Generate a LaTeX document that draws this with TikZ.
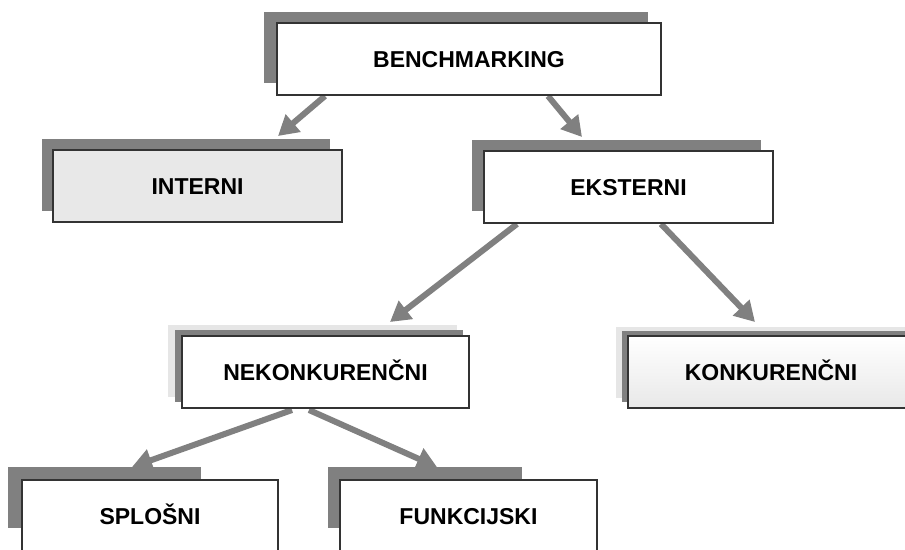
\documentclass[tikz,border=0pt]{standalone}
\usepackage{fontspec}
\setmainfont{Liberation Sans}
\usetikzlibrary{arrows.meta}
\definecolor{shadowdark}{HTML}{808080}
\definecolor{shadowlight}{HTML}{E6E6E6}
\definecolor{boxgray}{HTML}{E8E8E8}
\definecolor{edge}{HTML}{333333}
\tikzset{
  box/.style={draw=edge, line width=1.3pt, fill=white, minimum width=#1, minimum height=72pt,
    inner sep=0pt, text height=16.5pt, text depth=0pt,
    font=\fontsize{23}{27}\selectfont\bfseries},
  box/.default=288pt,
  arr/.style={draw=shadowdark, line width=6pt,
    -{Triangle[length=20pt, width=22pt]}},
  shade/.style={fill=shadowdark},
  lightshade/.style={fill=shadowlight},
}
\begin{document}
\begin{tikzpicture}[x=1pt, y=-1pt]
\clip (0,0) rectangle (905,549);
\fill[white] (0,0) rectangle (905,549);

% arrow end points
\coordinate (a1s) at (325,96);  \coordinate (a1e) at (278,136);
\coordinate (a2s) at (548,96);  \coordinate (a2e) at (582,137);
\coordinate (a3s) at (517,224); \coordinate (a3e) at (390,322);
\coordinate (a4s) at (661,224); \coordinate (a4e) at (755,322);
\coordinate (a5s) at (292,410); \coordinate (a5e) at (132,467);
\coordinate (a6s) at (309,410); \coordinate (a6e) at (437,467);

% connectors
\draw[arr] (a1s) -- (a1e);
\draw[arr] (a2s) -- (a2e);
\draw[arr] (a3s) -- (a3e);
\draw[arr] (a4s) -- (a4e);
\draw[arr] (a5s) -- (a5e);
\draw[arr] (a6s) -- (a6e);

% BENCHMARKING
\fill[shade] (264,12) rectangle (648,83);
\node[box=384pt] (bench) at (469,59) {BENCHMARKING};

% INTERNI
\fill[shade] (42,139) rectangle (330,211);
\node[box=289pt, fill=boxgray] (interni) at (197.5,186) {INTERNI};

% EKSTERNI
\fill[shade] (472,140) rectangle (761,211);
\node[box=289pt] (eksterni) at (628.5,187) {EKSTERNI};

% NEKONKURENČNI
\fill[lightshade] (168,325) rectangle (457,397);
\fill[shade] (175,330) rectangle (463,402);
\node[box=287pt] (nekonk) at (325.5,372) {NEKONKURENČNI};

% KONKURENČNI
\fill[lightshade] (616,327) rectangle (905,398);
\fill[shade] (622,331) rectangle (912,402);
\node[box=286pt, top color=white, bottom color=boxgray] (konk) at (771,372) {KONKURENČNI};

% SPLOŠNI
\fill[shade] (8,467) rectangle (201,528);
\node[box=256pt] (splosni) at (150,516) {SPLOŠNI};

% FUNKCIJSKI
\fill[shade] (328,467) rectangle (522,528);
\node[box=257pt] (funk) at (468.5,516) {FUNKCIJSKI};
\end{tikzpicture}
\end{document}
